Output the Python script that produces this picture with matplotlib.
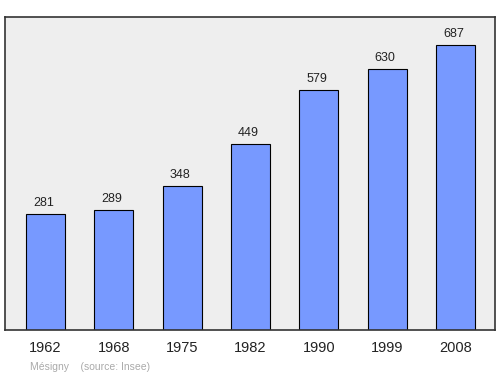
import matplotlib
matplotlib.use("Agg")
import matplotlib.pyplot as plt

plt.rcParams["font.family"] = ["Liberation Sans", "DejaVu Sans"]

years = ["1962", "1968", "1975", "1982", "1990", "1999", "2008"]
population = [281, 289, 348, 449, 579, 630, 687]

fig = plt.figure(figsize=(5, 3.74), dpi=100)
ax = fig.add_axes([0.01, 0.1176, 0.98, 0.837])
ax.set_facecolor("#eeeeee")

x = list(range(len(years)))
ax.bar(x, population, width=0.571, color="#7799ff", edgecolor="black", linewidth=0.8, zorder=2)

for xi, v in zip(x, population):
    ax.annotate(str(v), (xi, v), xytext=(-1.5, 3.5), textcoords="offset points",
                ha="center", va="bottom", fontsize=9, color="#222222")

ax.set_xlim(-0.593, 6.578)
ax.set_ylim(0, 755)
ax.set_yticks([])
ax.set_xticks(x)
ax.set_xticklabels(years, fontsize=10.5, color="#222222")
ax.tick_params(axis="x", length=0, pad=8)
for s in ax.spines.values():
    s.set_color("#333333")
    s.set_linewidth(1.2)

fig.text(0.06, 0.012, "Mésigny    (source: Insee)", fontsize=7.5, color="#aaaaaa")

fig.savefig("out.png", dpi=100)
